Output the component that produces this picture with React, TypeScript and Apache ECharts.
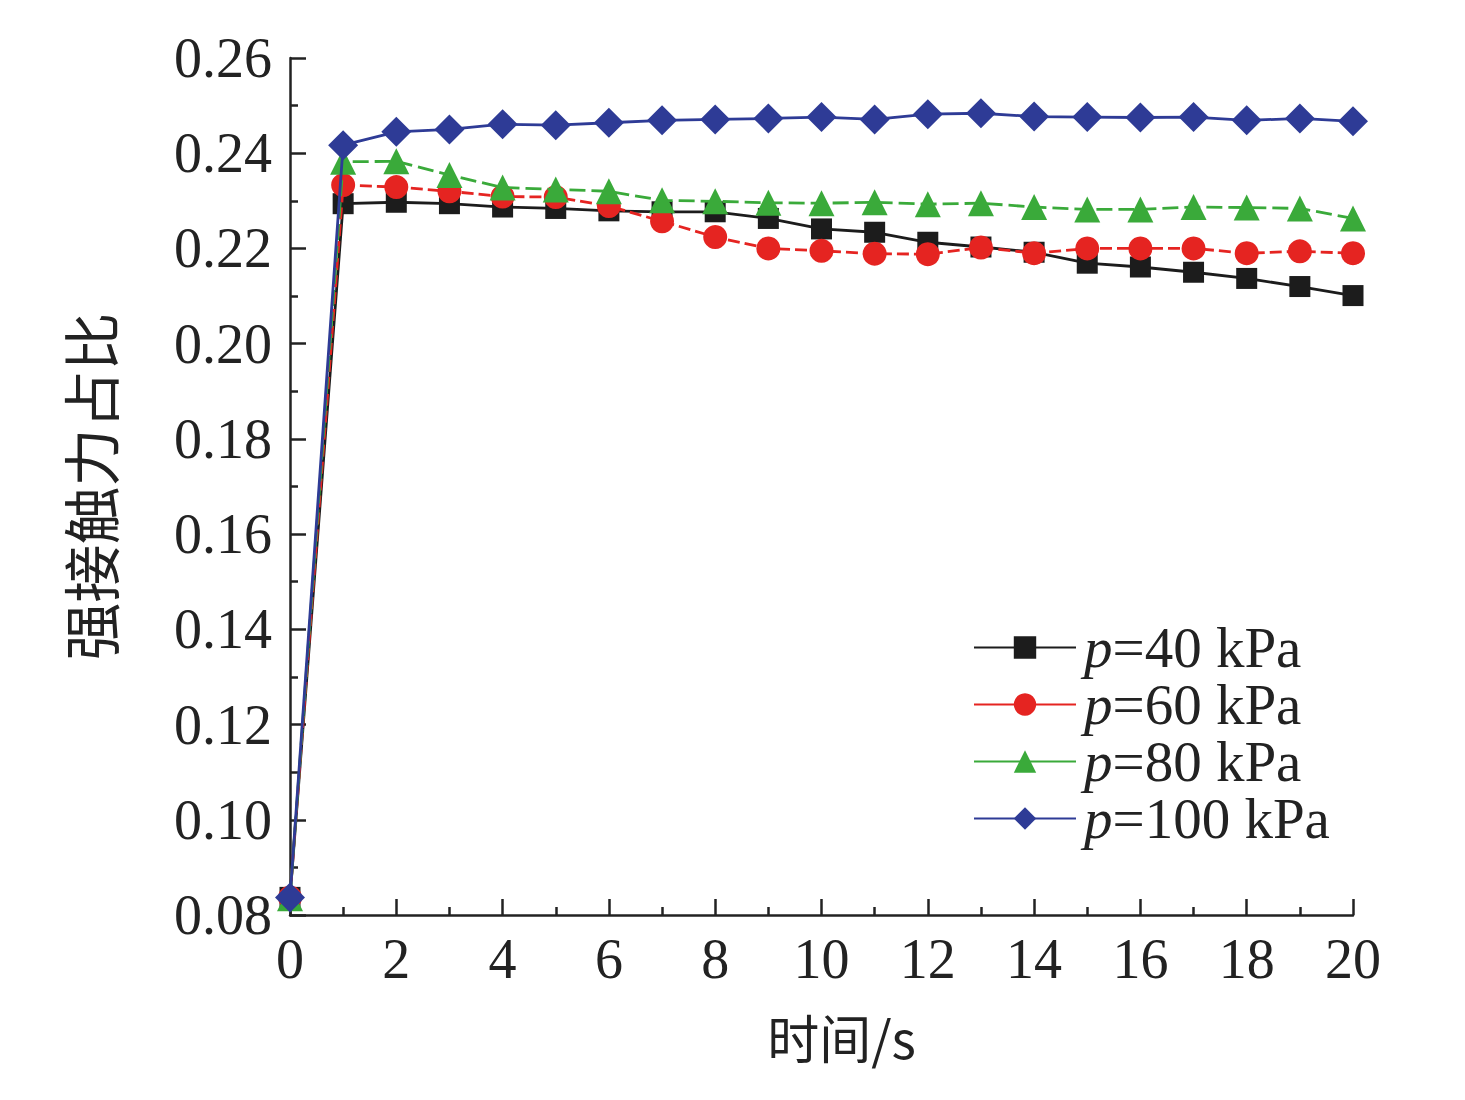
import React, { useEffect, useRef } from "react";
import * as echarts from "echarts";

const timeValues = [0, 1, 2, 3, 4, 5, 6, 7, 8, 9, 10, 11, 12, 13, 14, 15, 16, 17, 18, 19, 20];
const p40 = [0.0837, 0.2294, 0.2297, 0.2294, 0.2287, 0.2284, 0.2279, 0.2277, 0.2277, 0.2263, 0.2241, 0.2234, 0.2213, 0.2203, 0.2192, 0.2169, 0.2161, 0.2150, 0.2137, 0.2120, 0.2101];
const p60 = [0.0837, 0.2333, 0.2329, 0.2320, 0.2309, 0.2308, 0.2289, 0.2257, 0.2224, 0.2200, 0.2195, 0.2189, 0.2188, 0.2202, 0.2190, 0.2200, 0.2200, 0.2200, 0.2190, 0.2194, 0.2190];
const p80 = [0.0835, 0.2382, 0.2383, 0.2354, 0.2328, 0.2324, 0.2320, 0.2301, 0.2299, 0.2296, 0.2295, 0.2297, 0.2293, 0.2295, 0.2287, 0.2282, 0.2282, 0.2287, 0.2286, 0.2284, 0.2263];
const p100 = [0.0837, 0.2417, 0.2445, 0.2450, 0.2461, 0.2459, 0.2464, 0.2469, 0.2471, 0.2473, 0.2476, 0.2471, 0.2482, 0.2484, 0.2477, 0.2476, 0.2475, 0.2476, 0.2469, 0.2473, 0.2467];
const seriesNames = ["p=40 kPa", "p=60 kPa", "p=80 kPa", "p=100 kPa"];
const xAxisTitle = "时间/s";
const yAxisTitle = "强接触力占比";

const serif = "'Liberation Serif', 'DejaVu Serif', serif";
const cjk = "'Noto Sans CJK SC', 'Liberation Serif', serif";

export default function App() {
  const ref = useRef<HTMLDivElement>(null);
  useEffect(() => {
    document.body.style.margin = "0";
    const chart = echarts.init(ref.current!, undefined, { renderer: "svg" });
    const pairs = (arr: number[]) => timeValues.map((t, i) => [t, arr[i]]);
    const styles = [
      { color: "#1c1c1c", symbol: "rect", size: 21, dash: "solid" as any, width: 2.8 },
      { color: "#e52421", symbol: "circle", size: 24, dash: [12, 5], width: 2.8 },
      { color: "#3aaa3a", symbol: "triangle", size: 26, dash: [16, 6], width: 2.8 },
      { color: "#2e3b96", symbol: "diamond", size: 30, dash: "solid" as any, width: 2.8 },
    ];
    const datas = [p40, p60, p80, p100];
    chart.setOption({
      animation: false,
      backgroundColor: "#ffffff",
      grid: { left: 290, right: 112, top: 58, bottom: 185, containLabel: false },
      legend: {
        orient: "vertical",
        left: 968,
        top: 614,
        itemWidth: 102,
        itemHeight: 28,
        itemGap: 0,
        data: seriesNames,
        lineStyle: { type: "solid" },
        formatter: (name: string) => `{i|p}{n|${name.slice(1)}}`,
        textStyle: {
          color: "#222",
          lineHeight: 55,
          padding: [0, 0, 0, 3],
          rich: {
            i: { fontFamily: serif, fontStyle: "italic", fontSize: 57, color: "#222", lineHeight: 55 },
            n: { fontFamily: serif, fontSize: 57, color: "#222", lineHeight: 55 },
          },
        },
      },
      xAxis: {
        type: "value",
        min: 0,
        max: 20,
        interval: 2,
        name: xAxisTitle,
        nameLocation: "middle",
        nameGap: 95,
        nameTextStyle: { fontFamily: cjk, fontSize: 52, color: "#222", padding: [0, 0, 0, 40] },
        axisLine: { lineStyle: { color: "#222", width: 2.5 } },
        axisTick: { inside: true, length: 16, lineStyle: { color: "#222", width: 2.5 } },
        minorTick: { show: true, splitNumber: 2, length: 8, lineStyle: { color: "#222", width: 2.5 } },
        axisLabel: { fontFamily: serif, fontSize: 56, color: "#222", margin: 16 },
        splitLine: { show: false },
      },
      yAxis: {
        type: "value",
        min: 0.08,
        max: 0.26,
        interval: 0.02,
        name: yAxisTitle,
        nameLocation: "middle",
        nameRotate: 90,
        nameGap: 172,
        nameTextStyle: { fontFamily: cjk, fontSize: 58, color: "#222" },
        axisLine: { lineStyle: { color: "#222", width: 2.5 } },
        axisTick: { inside: true, length: 16, lineStyle: { color: "#222", width: 2.5 } },
        minorTick: { show: true, splitNumber: 2, length: 8, lineStyle: { color: "#222", width: 2.5 } },
        axisLabel: {
          fontFamily: serif,
          fontSize: 56,
          color: "#222",
          margin: 18,
          formatter: (v: number) => v.toFixed(2),
        },
        splitLine: { show: false },
      },
      series: datas.map((d, i) => ({
        name: seriesNames[i],
        type: "line",
        data: pairs(d),
        symbol: styles[i].symbol,
        symbolSize: styles[i].size,
        showAllSymbol: true,
        clip: true,
        itemStyle: { color: styles[i].color },
        lineStyle: { color: styles[i].color, width: styles[i].width, type: styles[i].dash },
        z: 2 + i,
      })),
    });
    return () => chart.dispose();
  }, []);
  return <div ref={ref} style={{ width: 1465, height: 1100 }} />;
}
